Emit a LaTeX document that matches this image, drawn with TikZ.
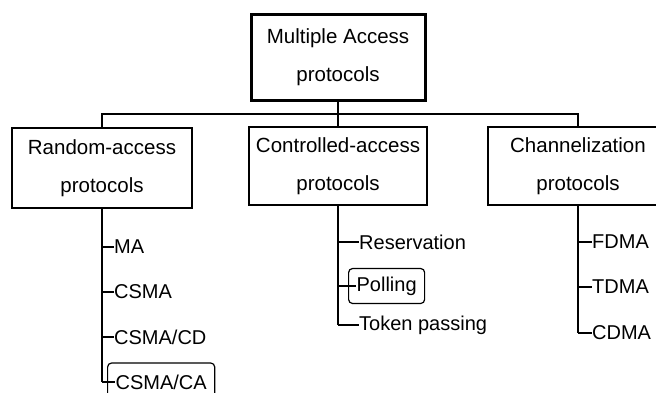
\documentclass[tikz,border=0pt]{standalone}
\usepackage{fontspec}
\setmainfont{Liberation Sans}
\begin{document}
\begin{tikzpicture}[x=1pt,y=-1pt,
  catbox/.style={draw,line width=1.8pt,minimum width=180pt,minimum height=80pt,align=center,inner sep=0pt,font=\fontsize{20.5}{38}\selectfont},
  rootbox/.style={catbox,line width=3pt,minimum width=174pt,minimum height=86pt},
  item/.style={anchor=west,inner sep=0pt,font=\fontsize{20}{24}\selectfont},
  itembox/.style={item,draw,rounded corners=4pt,line width=1.2pt,inner xsep=7pt,minimum height=36pt},
  conn/.style={line width=2pt},
  trunk/.style={line width=2.6pt},
  tick/.style={line width=1.5pt}]
\useasboundingbox (0,0) rectangle (656,392);
\clip (0,0) rectangle (656,392);
\node[rootbox] (root) at (338,57) {Multiple Access\\protocols};
\node[catbox] (rand) at (102,168) {Random-access\\protocols};
\node[catbox,minimum width=178pt,minimum height=78pt] (ctrl) at (338,166) {Controlled-access\\protocols};
\node[catbox,minimum height=78pt] (chan) at (578,166) {Channelization\\protocols};
\coordinate (bus) at (0,114);
\draw[conn] (root.south) -- (ctrl.north);
\draw[conn] (rand.north) -- (rand.north |- bus) -- (chan.north |- bus) -- (chan.north);
% random access list
\node[item] (ma) at (114,247) {MA};
\node[item] (csma) at (114,292) {CSMA};
\node[item] (csmacd) at (114,337) {CSMA/CD};
\node[itembox,minimum height=38pt,inner xsep=8pt] (csmaca) at (107,382) {CSMA/CA};
\draw[trunk] (rand.south) -- (rand.south |- csmaca.west);
\foreach \n in {ma,csma,csmacd}{\draw[tick] (rand.south |- \n.west) -- (\n.west);}
\draw[tick] (rand.south |- csmaca.west) -- ([xshift=8pt]csmaca.west);
% controlled access list
\node[item] (resv) at (359,242) {Reservation};
\node[itembox,minimum height=35pt,inner xsep=8pt] (poll) at (348,286) {Polling};
\node[item] (token) at (359,325) {Token passing};
\draw[trunk] (ctrl.south) -- (ctrl.south |- token.west);
\draw[tick] (ctrl.south |- resv.west) -- (resv.west);
\draw[tick] (ctrl.south |- poll.west) -- ([xshift=8pt]poll.west);
\draw[tick] (ctrl.south |- token.west) -- (token.west);
% channelization list
\node[item] (fdma) at (592,242) {FDMA};
\node[item] (tdma) at (592,287) {TDMA};
\node[item] (cdma) at (592,333) {CDMA};
\draw[trunk] (chan.south) -- (chan.south |- cdma.west);
\foreach \n in {fdma,tdma,cdma}{\draw[tick] (chan.south |- \n.west) -- (\n.west);}
\end{tikzpicture}
\end{document}
